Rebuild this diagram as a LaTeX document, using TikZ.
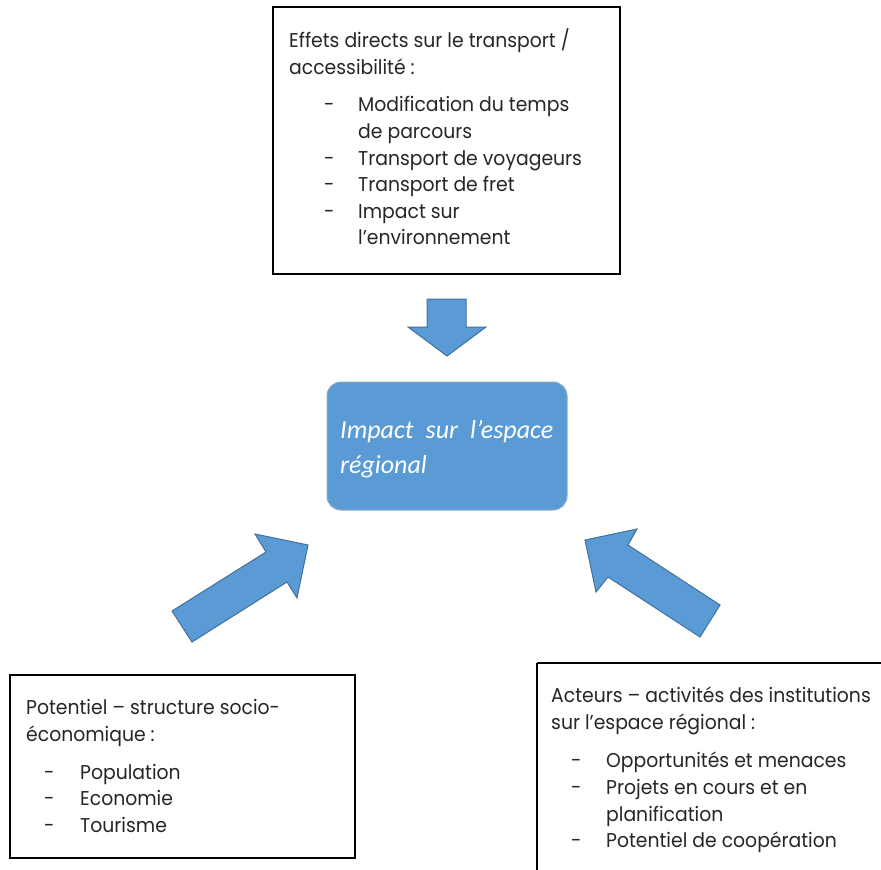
\documentclass[tikz,border=0pt]{standalone}
\usepackage{fontspec}
\setmainfont[FakeStretch=0.94]{Poppins}
\newfontfamily\calfont{Carlito}
\definecolor{shapeblue}{HTML}{5B9BD5}
\definecolor{shapeedge}{HTML}{41719C}
\tikzset{
  txtbox/.style={draw=black, line width=1.6pt, fill=white},
  ln/.style={anchor=base west, inner sep=0pt, font=\fontsize{20}{24}\selectfont, text=black!85},
  blockarrow/.style={fill=shapeblue, draw=shapeedge, line width=1pt, line join=miter},
}
\begin{document}
\begin{tikzpicture}[x=1pt,y=-1pt]
\useasboundingbox (0,0) rectangle (881,870);
\fill[white] (0,0) rectangle (881,870);
% top box
\draw[txtbox] (273,7) rectangle (620,274);
\node[ln] (t1) at (289,47) {Effets directs sur le transport /};
\node[ln] (t2) at (289,74) {accessibilité :};
\node[ln] (t3d) at (324,111) {-};
\node[ln] (t3) at (358,111) {Modification du temps};
\node[ln] (t4) at (358,138) {de parcours};
\node[ln] (t5d) at (324,165) {-};
\node[ln] (t5) at (358,165) {Transport de voyageurs};
\node[ln] (t6d) at (324,191) {-};
\node[ln] (t6) at (358,191) {Transport de fret};
\node[ln] (t7d) at (324,218) {-};
\node[ln] (t7) at (358,218) {Impact sur};
\node[ln] (t8) at (358,244) {l’environnement};
% center
\draw[fill=shapeblue, draw=shapeedge!60!white, line width=1pt, rounded corners=14pt] (327,382) rectangle (567,510);
\node[anchor=base west, inner sep=0pt, text=white, font=\calfont\itshape\fontsize{26}{30}\selectfont] (c1) at (340,438) {\makebox[213pt][s]{Impact sur l’espace}};
\node[anchor=base west, inner sep=0pt, text=white, font=\calfont\itshape\fontsize{26}{30}\selectfont] (c2) at (340,473) {régional};
% down arrow
\draw[blockarrow] (427,299) -- (466,299) -- (466,327) -- (486,327) -- (447,356) -- (408,327) -- (427,327) -- cycle;
% left arrow
\draw[blockarrow] (172,611) -- (266,552) -- (255,534) -- (308,545) -- (297,598) -- (287,582) -- (192,642) -- cycle;
% right arrow
\draw[blockarrow] (720,605) -- (628,545) -- (637,529) -- (585,540) -- (596,592) -- (608,577) -- (700,637) -- cycle;
% bottom left box
\draw[txtbox] (10,675) rectangle (355,858);
\node[ln] (l1) at (26,714) {Potentiel – structure socio-};
\node[ln] (l2) at (26,741) {économique :};
\node[ln] (l3d) at (44,779) {-};
\node[ln] (l3) at (80,779) {Population};
\node[ln] (l4d) at (44,805) {-};
\node[ln] (l4) at (80,805) {Economie};
\node[ln] (l5d) at (44,832) {-};
\node[ln] (l5) at (80,832) {Tourisme};
% bottom right box
\draw[txtbox] (537,663) -- (890,663) (537,663) -- (537,880);
\node[ln] (r1) at (551,702) {Acteurs – activités des institutions};
\node[ln] (r2) at (551,729) {sur l’espace régional :};
\node[ln] (r3d) at (571,767) {-};
\node[ln] (r3) at (606,767) {Opportunités et menaces};
\node[ln] (r4d) at (571,794) {-};
\node[ln] (r4) at (606,794) {Projets en cours et en};
\node[ln] (r5) at (606,821) {planification};
\node[ln] (r6d) at (571,847) {-};
\node[ln] (r6) at (606,847) {Potentiel de coopération};
\end{tikzpicture}
\end{document}
